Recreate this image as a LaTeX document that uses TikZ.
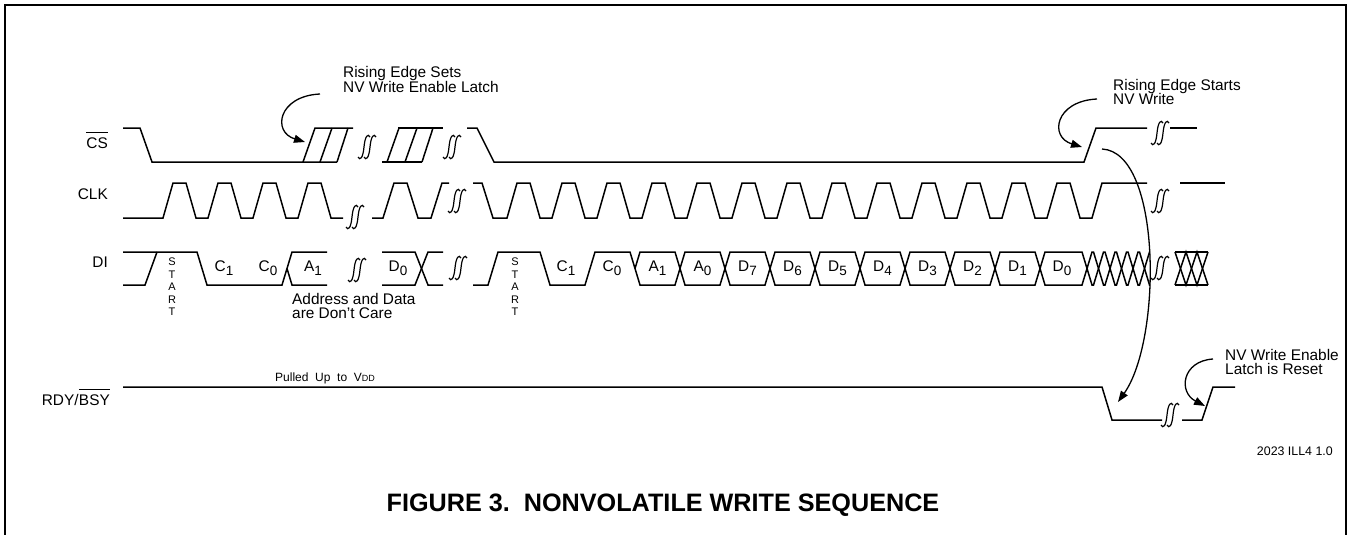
\documentclass[tikz,border=0pt]{standalone}
\usepackage{fontspec}
\setmainfont{Liberation Sans}
\usetikzlibrary{arrows.meta}
\newcommand\fmain{\fontsize{15.4}{14.5}\selectfont}
\newcommand\sg[2]{#1\raisebox{-4pt}{\fontsize{13.5}{13.5}\selectfont #2}}
\tikzset{
  wave/.style={line width=1.5pt},
  arr/.style={line width=1.3pt,-{Triangle[length=11pt,width=8pt]}},
  brkl/.style={line width=1.2pt},
  lbl/.style={inner sep=0pt,font=\fmain},
  stt/.style={inner sep=0pt,align=center,font=\fontsize{11}{12.5}\selectfont},
  ovl/.style={line width=1.2pt},
  brk/.pic={
    \draw[brkl] (-9,10) .. controls (-7,14) and (-4,11) .. (-3,0) .. controls (-2,-11) and (1,-14) .. (3,-10);
    \draw[brkl] (-3,10) .. controls (-1,14) and (2,11) .. (3,0) .. controls (4,-11) and (7,-14) .. (9,-10);
  }
}
\begin{document}
\begin{tikzpicture}[x=1pt,y=-1pt]
\useasboundingbox (0,0) rectangle (1351,535);
% frame
\draw[line width=2.5pt] (5,537) -- (5,5) -- (1346,5) -- (1346,537);

% side labels
\node[lbl,anchor=base east] (lcs) at (108,148.5) {CS};
\draw[ovl] ([yshift=5pt]lcs.north west) -- ([yshift=5pt]lcs.north east);
\node[lbl,anchor=base east] (lclk) at (108,199.5) {CLK};
\node[lbl,anchor=base east] (ldi) at (108,267.5) {DI};
\node[lbl,anchor=base east] (lbsy) at (110,405.5) {BSY};
\node[lbl,anchor=base east] (lrdy) at (lbsy.base west) {RDY/};
\draw[ovl] ([yshift=5pt]lbsy.north west) -- ([yshift=5pt]lbsy.north east);

% ---------- CS ----------
\draw[wave] (123,128) -- (140,128) -- (152,162) -- (337,162);
\draw[wave] (303,162) -- (315,128) -- (353,128);
\draw[wave] (320,162) -- (332,128);
\draw[wave] (337,162) -- (348,128);
\draw[wave] (382,162) -- (422,162);
\draw[wave] (398,128) -- (443,128);
\draw[wave] (387,162) -- (399,128);
\draw[wave] (405,162) -- (417,128);
\draw[wave] (422,162) -- (433,128);
\draw[wave] (467,128) -- (477,128) -- (494,162) -- (1084,162) -- (1096,128) -- (1147,128);
\draw[wave] (1170,128) -- (1197,128);

% ---------- CLK ----------
\draw[wave] (123,218) -- (163,218)
  \foreach \t in {173,218,263,308} { -- (\t,183) -- (\t+13,183) -- (\t+23,218) -- (\t+35,218) };
\draw[wave] (372,218) -- (383,218) -- (394,183) -- (407,183) -- (418,218) -- (431,218) -- (442,183) -- (449,183);
\draw[wave] (473,183) -- (482,183) -- (493,218) -- (507,218)
  \foreach \t in {517,562,...,1057} { -- (\t,183) -- (\t+13,183) -- (\t+23,218) -- (\t+35,218) }
  -- (1102,183) -- (1147,183);
\draw[wave] (1180,183) -- (1225,183);

% ---------- DI ----------
\draw[wave] (123,285) -- (145,285) -- (157,252);
\draw[wave] (123,252) -- (197,252) -- (207,285) -- (282,285) -- (292,252) -- (327,252);
\draw[wave] (287,268.5) -- (292,285) -- (327,285);
\draw[wave] (382,252) -- (415,252) -- (428,285) -- (443,285);
\draw[wave] (382,285) -- (415,285) -- (428,252) -- (443,252);
\draw[wave] (473,285) -- (488,285) -- (498,252) -- (540,252) -- (550,285) -- (585,285) -- (595,252) -- (630,252) -- (635,268.5);
\foreach \a/\b in {635/680,680/725,725/770,770/815,815/860,860/905,905/950,950/995,995/1040,1040/1087,
                   1087/1098.5,1098.5/1110,1110/1121.5,1121.5/1133,1133/1144.5}
  \draw[wave] (\a,268.5) -- (\a+5,252) -- (\b-5,252) -- (\b,268.5) -- (\b-5,285) -- (\a+5,285) -- cycle;
\draw[wave] (1150,252) -- (1149.5,252) -- (1144.5,268.5) -- (1149.5,285) -- (1150,285);
\draw[wave] (1175,252) -- (1208,252);
\draw[wave] (1175,285) -- (1208,285);
\draw[wave] (1175,252) -- (1186,285) -- (1197,252) -- (1208,285);
\draw[wave] (1175,285) -- (1186,252) -- (1197,285) -- (1208,252);

% DI labels
\node[stt] (st1) at (172,287) {S\\T\\A\\R\\T};
\node[lbl,anchor=base] (c1a) at (224,271) {\sg{C}{1}};
\node[lbl,anchor=base] (c0a) at (268,271) {\sg{C}{0}};
\node[lbl,anchor=base] (a1a) at (313,271) {\sg{A}{1}};
\node[lbl,anchor=base] (d0a) at (398,271) {\sg{D}{0}};
\node[stt] (st2) at (515,287) {S\\T\\A\\R\\T};
\node[lbl,anchor=base] (c1b) at (566,271) {\sg{C}{1}};
\node[lbl,anchor=base] (c0b) at (612,271) {\sg{C}{0}};
\node[lbl,anchor=base] (a1b) at (657.5,271) {\sg{A}{1}};
\node[lbl,anchor=base] (a0b) at (702.5,271) {\sg{A}{0}};
\node[lbl,anchor=base] (d7b) at (747.5,271) {\sg{D}{7}};
\node[lbl,anchor=base] (d6b) at (792.5,271) {\sg{D}{6}};
\node[lbl,anchor=base] (d5b) at (837.5,271) {\sg{D}{5}};
\node[lbl,anchor=base] (d4b) at (882.5,271) {\sg{D}{4}};
\node[lbl,anchor=base] (d3b) at (927.5,271) {\sg{D}{3}};
\node[lbl,anchor=base] (d2b) at (972.5,271) {\sg{D}{2}};
\node[lbl,anchor=base] (d1b) at (1017.5,271) {\sg{D}{1}};
\node[lbl,anchor=base] (d0b) at (1062,271) {\sg{D}{0}};
\node[lbl,anchor=west,align=left] (adc) at (292,306) {Address and Data\\are Don’t Care};

% ---------- RDY/BSY ----------
\draw[wave] (123,387) -- (1102,387) -- (1112,420) -- (1162,420);
\draw[wave] (1182,420) -- (1202,420) -- (1213,387) -- (1235,387);
\node[inner sep=0pt,anchor=base west,font=\fontsize{12}{12}\selectfont] (pull) at (275,381)
  {Pulled\ \ Up\ \ to\ \ V{\fontsize{9}{9}\selectfont DD}};

% break marks
\foreach \p in {(367,147),(452,147),(1160,133),(355,217),(457,201),(1160,201),(357,270),(458,268),(1160,268),(1170,415)}
  \pic at \p {brk};

% annotations
\node[lbl,anchor=west,align=left] (n1) at (343,79.5) {Rising Edge Sets\\NV Write Enable Latch};
\node[lbl,anchor=west,align=left] (n2) at (1113,92) {Rising Edge Starts\\NV Write};
\node[lbl,anchor=west,align=left] (n3) at (1225,362) {NV Write Enable\\Latch is Reset};
\coordinate (a1s) at (320,94);   \coordinate (a1e) at (305,142);
\coordinate (a2s) at (1097,99);  \coordinate (a2e) at (1082,147);
\coordinate (a3s) at (1213,359); \coordinate (a3e) at (1205,406);
\coordinate (a4s) at (1102,149); \coordinate (a4e) at (1118,402);
\draw[arr] (a1s) .. controls (278,96) and (272,132) .. (a1e);
\draw[arr] (a2s) .. controls (1055,101) and (1049,137) .. (a2e);
\draw[arr] (a3s) .. controls (1182,361) and (1178,392) .. (a3e);
\draw[arr] (a4s) .. controls (1162,152) and (1162,340) .. (a4e);

% id and title
\node[inner sep=0pt,anchor=base east,font=\fontsize{12.4}{12.4}\selectfont] (ill) at (1333,455.5) {2023 ILL4 1.0};
\node[inner sep=0pt,anchor=base,font=\fontsize{25.2}{25.2}\selectfont\bfseries] (title) at (663,511)
  {FIGURE 3.\ \ NONVOLATILE WRITE SEQUENCE};
\end{tikzpicture}
\end{document}
